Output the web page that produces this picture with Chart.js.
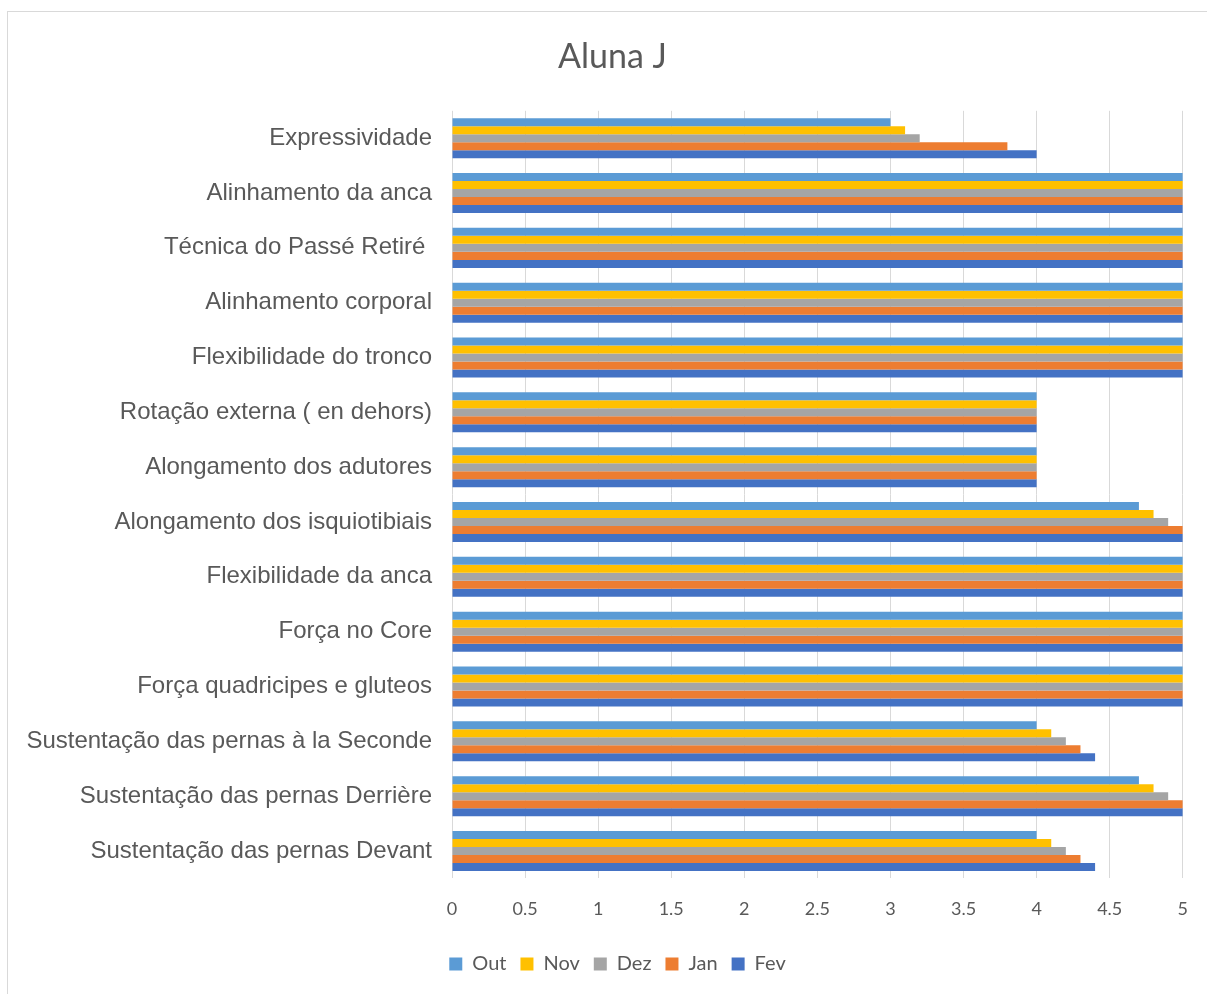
<!DOCTYPE html>
<html>
<head>
<meta charset="utf-8">
<script src="https://cdn.jsdelivr.net/npm/chart.js@4"></script>
<style>
  body { margin: 0; background: #fff; overflow: hidden; }
  #box { position: absolute; left: 7px; top: 11px; width: 1220px; height: 1000px;
         border-left: 1px solid #d9d9d9; border-top: 1px solid #d9d9d9; }
  #chart { position: absolute; left: 0; top: 0; }
</style>
</head>
<body>
<div id="box"><canvas id="chart" width="1200" height="983"></canvas></div>
<script>
// categories, top to bottom as in the picture
const categories = [
    'Expressividade',
    'Alinhamento da anca',
    'Técnica do Passé Retiré ',
    'Alinhamento corporal',
    'Flexibilidade do tronco',
    'Rotação externa ( en dehors)',
    'Alongamento dos adutores',
    'Alongamento dos isquiotibiais',
    'Flexibilidade da anca',
    'Força no Core',
    'Força quadricipes e gluteos',
    'Sustentação das pernas à la Seconde',
    'Sustentação das pernas Derrière',
    'Sustentação das pernas Devant'
];

// one array per month
const outValues = [3, 5, 5, 5, 5, 4, 4, 4.7, 5, 5, 5, 4, 4.7, 4];
const novValues = [3.1, 5, 5, 5, 5, 4, 4, 4.8, 5, 5, 5, 4.1, 4.8, 4.1];
const dezValues = [3.2, 5, 5, 5, 5, 4, 4, 4.9, 5, 5, 5, 4.2, 4.9, 4.2];
const janValues = [3.8, 5, 5, 5, 5, 4, 4, 5, 5, 5, 5, 4.3, 5, 4.3];
const fevValues = [4, 5, 5, 5, 5, 4, 4, 5, 5, 5, 5, 4.4, 5, 4.4];

const seriesNames = ['Out', 'Nov', 'Dez', 'Jan', 'Fev'];
const seriesColors = ['#5B9BD5', '#FFC000', '#A5A5A5', '#ED7D31', '#4472C4'];
const seriesValues = [outValues, novValues, dezValues, janValues, fevValues];

// x axis ticks
const xMin = 0;
const xMax = 5;
const xStep = 0.5;

const textColor = '#595959';
const gridColor = '#d9d9d9';

// the title and legend sit a bit right of the canvas centre in the original
const shiftBoxes = {
    id: 'shiftBoxes',
    afterLayout(chart) {
        chart.titleBlock.left += 7;
        chart.titleBlock.right += 7;
        chart.legend.left += 12;
        chart.legend.right += 12;
    }
};

const ctx = document.getElementById('chart').getContext('2d');
const chart = new Chart(ctx, {
    type: 'bar',
    data: {
        labels: categories,
        datasets: seriesNames.map((name, i) => ({
            label: name,
            data: seriesValues[i],
            backgroundColor: seriesColors[i],
            borderWidth: 0,
            barPercentage: 1,
            categoryPercentage: 0.73
        }))
    },
    options: {
        indexAxis: 'y',
        responsive: false,
        animation: false,
        layout: { padding: { left: 18, right: 23, top: 0, bottom: 11 } },
        plugins: {
            title: {
                display: true,
                text: 'Aluna J',
                color: textColor,
                font: { family: 'Lato', size: 34, weight: 'normal' },
                padding: { top: 25, bottom: 33 }
            },
            legend: {
                position: 'bottom',
                labels: {
                    color: textColor,
                    font: { family: 'Lato', size: 20 },
                    boxWidth: 13,
                    boxHeight: 13,
                    padding: 14
                }
            },
            tooltip: { enabled: false }
        },
        scales: {
            x: {
                min: xMin,
                max: xMax,
                ticks: {
                    stepSize: xStep,
                    color: textColor,
                    font: { family: 'Lato', size: 18 },
                    padding: 20,
                    callback: (value) => String(value)
                },
                grid: { color: gridColor, drawTicks: false },
                border: { display: false }
            },
            y: {
                ticks: {
                    color: textColor,
                    font: { family: 'Liberation Sans', size: 24 },
                    padding: 20,
                    autoSkip: false
                },
                grid: { display: false, drawTicks: false },
                border: { display: false },
                afterFit: (scale) => { scale.width = 426; }
            }
        }
    },
    plugins: [shiftBoxes]
});
</script>
</body>
</html>
